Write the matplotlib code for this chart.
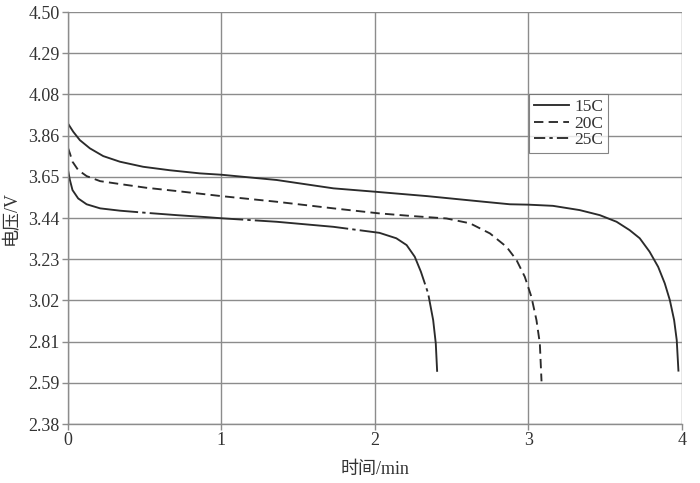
import numpy as np
import matplotlib.pyplot as plt
from matplotlib.lines import Line2D

plt.rcParams['font.family'] = ['Liberation Serif', 'Noto Sans CJK SC']

# 15C discharge curve (time in min, voltage in V)
t_15 = [0.0, 0.035, 0.078, 0.143, 0.23, 0.339, 0.49, 0.665, 0.86, 1.0, 1.36, 1.73,
        2.01, 2.34, 2.71, 2.88, 3.0, 3.16, 3.335, 3.466, 3.575, 3.66, 3.726, 3.79,
        3.846, 3.889, 3.922, 3.95, 3.967, 3.978]
v_15 = [3.927, 3.884, 3.841, 3.799, 3.759, 3.730, 3.704, 3.686, 3.670, 3.663, 3.636, 3.593,
        3.575, 3.553, 3.524, 3.511, 3.509, 3.503, 3.481, 3.455, 3.421, 3.378, 3.336, 3.267,
        3.189, 3.104, 3.018, 2.915, 2.812, 2.655]

# 20C discharge curve
t_20 = [0.0, 0.013, 0.03, 0.067, 0.122, 0.21, 0.34, 0.51, 0.71, 0.90, 1.0, 1.36, 1.73,
        2.03, 2.25, 2.467, 2.62, 2.75, 2.858, 2.923, 2.977, 3.02, 3.053, 3.075, 3.086]
v_20 = [3.802, 3.773, 3.730, 3.687, 3.656, 3.630, 3.615, 3.596, 3.579, 3.562, 3.553, 3.524, 3.490,
        3.464, 3.450, 3.438, 3.413, 3.361, 3.292, 3.224, 3.138, 3.035, 2.915, 2.795, 2.600]

# 25C discharge curve
t_25 = [0.0, 0.013, 0.03, 0.067, 0.122, 0.21, 0.34, 0.51, 0.71, 0.90, 1.0, 1.36, 1.73,
        2.03, 2.14, 2.207, 2.26, 2.30, 2.347, 2.38, 2.397, 2.406]
v_25 = [3.690, 3.636, 3.584, 3.541, 3.511, 3.490, 3.478, 3.467, 3.455, 3.445, 3.439, 3.421, 3.395,
        3.364, 3.336, 3.301, 3.241, 3.164, 3.053, 2.915, 2.795, 2.649]

labels = ['15C', '20C', '25C']
y_ticks = [2.38, 2.59, 2.81, 3.02, 3.23, 3.44, 3.65, 3.86, 4.08, 4.29, 4.50]
y_tick_labels = ['2.38', '2.59', '2.81', '3.02', '3.23', '3.44', '3.65', '3.86', '4.08', '4.29', '4.50']
x_ticks = [0, 1, 2, 3, 4]

fig = plt.figure(figsize=(7, 4.83), dpi=100)
ax = fig.add_axes([0.097, 0.122, 0.877, 0.853])

line_color = '#2b2b2b'
styles = ['-', (0, (5, 2.8)), (0, (50, 2.2, 1.8, 2.2))]
ax.plot(t_15, v_15, color=line_color, lw=1.35, linestyle=styles[0])
ax.plot(t_20, v_20, color=line_color, lw=1.35, linestyle=styles[1])
ax.plot(t_25, v_25, color=line_color, lw=1.35, linestyle=styles[2])

ax.set_xlim(0, 4)
ax.set_ylim(2.38, 4.50)
ax.set_xticks(x_ticks)
ax.set_yticks(np.linspace(2.38, 4.50, 11))
ax.set_yticklabels(y_tick_labels)

ax.grid(True, color='#8c8c8c', lw=1.0)
ax.set_axisbelow(True)
for side in ['top', 'right']:
    ax.spines[side].set_visible(False)
for side in ['left', 'bottom']:
    ax.spines[side].set_color('#8c8c8c')
    ax.spines[side].set_linewidth(1.0)
ax.tick_params(direction='out', length=4, width=1.0, color='#8c8c8c',
               labelsize=13, labelcolor='#333333', pad=2)

ax.set_xlabel('时间/min', fontsize=13, color='#333333', labelpad=8)
ax.set_ylabel('电压/V', fontsize=13, color='#333333', labelpad=6)

# legend handles: the long dash-dot pattern is too long to show on a short handle
handles = [
    Line2D([], [], color=line_color, lw=1.35, linestyle='-'),
    Line2D([], [], color=line_color, lw=1.35, linestyle=(0, (5, 2.8))),
    Line2D([], [], color=line_color, lw=1.35, linestyle=(0, (6, 2.2, 1.8, 2.2))),
]
leg = ax.legend(handles, labels, loc='upper left', bbox_to_anchor=(0.751, 0.801), fontsize=12.5,
                frameon=True, fancybox=False, borderpad=0.3, labelspacing=0.0,
                handlelength=2.0, handletextpad=0.3, borderaxespad=0)
leg.get_frame().set_edgecolor('#666666')
leg.get_frame().set_linewidth(0.8)
for t in leg.get_texts():
    t.set_color('#333333')

fig.savefig('out.png', dpi=100)
